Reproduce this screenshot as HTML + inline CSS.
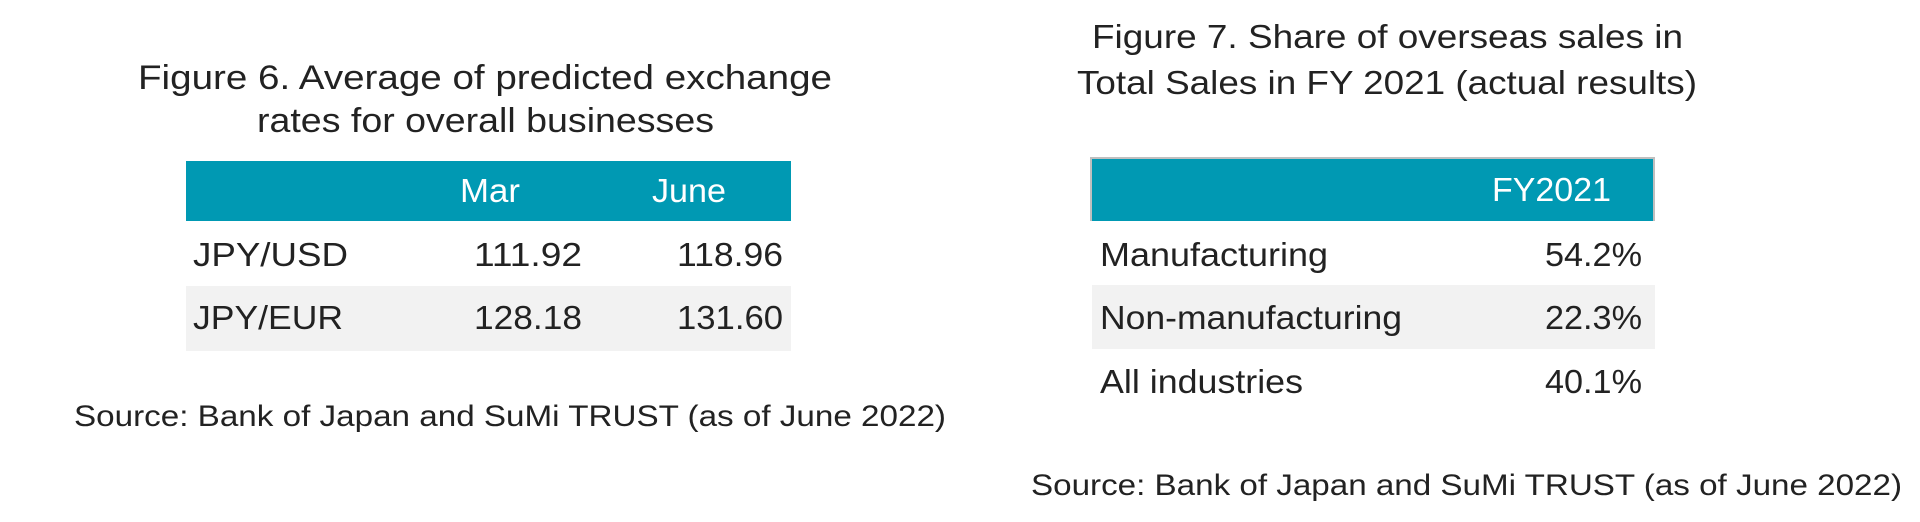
<!DOCTYPE html>
<html><head><meta charset="utf-8"><style>
html,body{margin:0;padding:0;background:#fff;}
svg{display:block;}
text{font-family:"Liberation Sans Narrow","Liberation Sans",sans-serif;fill:#222;}
.w{fill:#fff;}
</style></head><body>
<svg width="1920" height="522" viewBox="0 0 1920 522" xmlns="http://www.w3.org/2000/svg">
<!-- Left figure -->
<text x="138" y="89" font-size="34" textLength="694" lengthAdjust="spacingAndGlyphs">Figure 6. Average of predicted exchange</text>
<text x="257" y="132" font-size="34" textLength="457" lengthAdjust="spacingAndGlyphs">rates for overall businesses</text>
<rect x="186" y="161" width="605" height="60" fill="#0099B3"/>
<rect x="186" y="286" width="605" height="65" fill="#F2F2F2"/>
<text class="w" x="460" y="202" font-size="33" textLength="60" lengthAdjust="spacingAndGlyphs">Mar</text>
<text class="w" x="652" y="202" font-size="33" textLength="74" lengthAdjust="spacingAndGlyphs">June</text>
<text x="193" y="266" font-size="33" textLength="155" lengthAdjust="spacingAndGlyphs">JPY/USD</text>
<text x="474" y="266" font-size="33" textLength="108" lengthAdjust="spacingAndGlyphs">111.92</text>
<text x="677" y="266" font-size="33" textLength="106" lengthAdjust="spacingAndGlyphs">118.96</text>
<text x="193" y="329" font-size="33" textLength="150" lengthAdjust="spacingAndGlyphs">JPY/EUR</text>
<text x="474" y="329" font-size="33" textLength="108" lengthAdjust="spacingAndGlyphs">128.18</text>
<text x="677" y="329" font-size="33" textLength="106" lengthAdjust="spacingAndGlyphs">131.60</text>
<text x="74" y="426" font-size="30" textLength="872" lengthAdjust="spacingAndGlyphs">Source: Bank of Japan and SuMi TRUST (as of June 2022)</text>
<!-- Right figure -->
<text x="1092" y="48" font-size="33" textLength="591" lengthAdjust="spacingAndGlyphs">Figure 7. Share of overseas sales in</text>
<text x="1077" y="94" font-size="33" textLength="620" lengthAdjust="spacingAndGlyphs">Total Sales in FY 2021 (actual results)</text>
<rect x="1090" y="157" width="565" height="64" fill="#BFBFBF"/>
<rect x="1092" y="159" width="561" height="62" fill="#0099B3"/>
<rect x="1092" y="285" width="563" height="64" fill="#F2F2F2"/>
<text class="w" x="1492" y="201" font-size="33" textLength="119" lengthAdjust="spacingAndGlyphs">FY2021</text>
<text x="1100" y="266" font-size="33" textLength="228" lengthAdjust="spacingAndGlyphs">Manufacturing</text>
<text x="1545" y="266" font-size="33" textLength="97" lengthAdjust="spacingAndGlyphs">54.2%</text>
<text x="1100" y="329" font-size="33" textLength="302" lengthAdjust="spacingAndGlyphs">Non-manufacturing</text>
<text x="1545" y="329" font-size="33" textLength="97" lengthAdjust="spacingAndGlyphs">22.3%</text>
<text x="1100" y="393" font-size="33" textLength="203" lengthAdjust="spacingAndGlyphs">All industries</text>
<text x="1545" y="393" font-size="33" textLength="97" lengthAdjust="spacingAndGlyphs">40.1%</text>
<text x="1031" y="495" font-size="30" textLength="871" lengthAdjust="spacingAndGlyphs">Source: Bank of Japan and SuMi TRUST (as of June 2022)</text>
</svg>
</body></html>
